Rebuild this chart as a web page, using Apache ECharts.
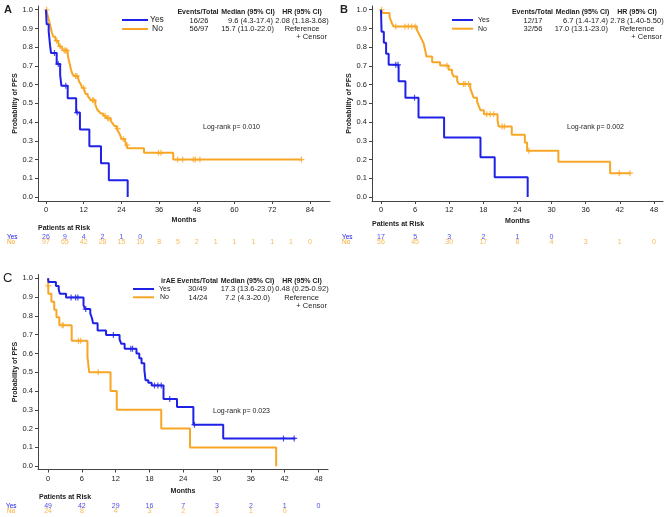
<!DOCTYPE html>
<html>
<head>
<meta charset="utf-8">
<script src="https://cdn.jsdelivr.net/npm/echarts@6/dist/echarts.min.js"></script>
<style>
  html, body { margin: 0; padding: 0; background: #fff; }
  #chart { width: 671px; height: 517px; }
</style>
</head>
<body>
<div id="chart"></div>
<script>
const blue = '#1f22e6';
const orange = '#f7a626';
const ink = '#222';
const font = '"Liberation Sans", Arial, sans-serif';

const yTicks = [0, 0.1, 0.2, 0.3, 0.4, 0.5, 0.6, 0.7, 0.8, 0.9, 1.0];
const xTicksA = [0, 12, 24, 36, 48, 60, 72, 84];
const xTicks6 = [0, 6, 12, 18, 24, 30, 36, 42, 48];

// panel A: step points [month, survival] and censor marks
const kmYesA = [[0, 1], [0.2, 0.923], [0.85, 0.885], [1.3, 0.808], [1.6, 0.769], [3.4, 0.71], [4.5, 0.652], [4.9, 0.594],
  [6.9, 0.528], [9.6, 0.451], [10.8, 0.361], [13.8, 0.271], [17.5, 0.18], [20.0, 0.09], [26.0, 0.0]];
const censorYesA = [[2.7, 0.769], [3.9, 0.71], [6.3, 0.594], [9.9, 0.451]];
const kmNoA = [[0, 1], [0.4, 0.979], [0.7, 0.959], [1.0, 0.938], [1.3, 0.918], [1.6, 0.897], [1.9, 0.876], [2.3, 0.856],
  [3.0, 0.835], [3.8, 0.825], [4.2, 0.804], [4.9, 0.794], [5.4, 0.783], [6.9, 0.762], [7.1, 0.741], [7.4, 0.72],
  [7.7, 0.699], [8.0, 0.678], [8.4, 0.657], [9.0, 0.646], [10.2, 0.635], [10.6, 0.614], [11.1, 0.603], [11.5, 0.582],
  [12.2, 0.571], [12.6, 0.55], [13.3, 0.539], [13.8, 0.528], [14.3, 0.516], [15.7, 0.494], [16.2, 0.47], [16.8, 0.458],
  [17.4, 0.446], [18.2, 0.434], [19.0, 0.42], [20.6, 0.407], [21.2, 0.393], [21.8, 0.379], [22.5, 0.365], [23.0, 0.35],
  [23.5, 0.335], [24.0, 0.31], [25.2, 0.295], [25.6, 0.277], [25.9, 0.26], [31.2, 0.236], [40.5, 0.2], [81.3, 0.2]];
const censorNoA = [[0.2, 1.0], [3.4, 0.835], [4.5, 0.804], [5.8, 0.783], [6.2, 0.783], [6.6, 0.783], [9.4, 0.646],
  [9.8, 0.646], [12.0, 0.582], [14.8, 0.516], [15.2, 0.516], [18.8, 0.434], [19.6, 0.42], [20.0, 0.42], [22.8, 0.365],
  [24.6, 0.31], [25.8, 0.277], [35.8, 0.236], [36.6, 0.236], [41.9, 0.2], [43.5, 0.2], [46.9, 0.2], [47.5, 0.2],
  [49.0, 0.2], [81.3, 0.2]];
const riskTimesA = [0, 6, 12, 18, 24, 30, 36, 42, 48, 54, 60, 66, 72, 78, 84];
const riskYesA = [26, 9, 4, 2, 1, 0];
const riskNoA = [97, 65, 42, 28, 15, 10, 8, 5, 2, 1, 1, 1, 1, 1, 0];

// panel B
const kmYesB = [[0, 1], [0.1, 0.882], [0.5, 0.824], [0.9, 0.765], [1.35, 0.706], [3.1, 0.618], [4.3, 0.53],
  [6.6, 0.424], [11.1, 0.318], [17.5, 0.212], [20.0, 0.106], [25.8, 0.0]];
const censorYesB = [[2.6, 0.706], [3.0, 0.706], [5.9, 0.53]];
const kmNoB = [[0, 1], [0.3, 0.982], [1.5, 0.964], [1.7, 0.946], [1.9, 0.929], [2.2, 0.911], [6.3, 0.893], [6.6, 0.875],
  [6.9, 0.857], [7.2, 0.839], [7.5, 0.82], [7.8, 0.78], [8.0, 0.75], [9.0, 0.72], [10.4, 0.702], [11.9, 0.68],
  [12.5, 0.661], [12.8, 0.643], [13.4, 0.62], [13.7, 0.604], [15.7, 0.58], [16.0, 0.555], [16.3, 0.53], [16.9, 0.508],
  [17.2, 0.485], [17.5, 0.463], [18.1, 0.442], [20.5, 0.41], [20.7, 0.376], [23.0, 0.333], [25.3, 0.291],
  [25.7, 0.247], [31.2, 0.188], [40.3, 0.127], [43.9, 0.127]];
const censorNoB = [[0.1, 1.0], [2.6, 0.911], [4.2, 0.911], [4.8, 0.911], [5.4, 0.911], [6.0, 0.911], [11.6, 0.702],
  [14.5, 0.604], [14.8, 0.604], [15.4, 0.604], [18.6, 0.442], [19.2, 0.442], [19.8, 0.442], [21.3, 0.376],
  [21.7, 0.376], [26.0, 0.247], [41.9, 0.127], [43.8, 0.127]];
const riskTimesB = [0, 6, 12, 18, 24, 30, 36, 42, 48];
const riskYesB = [17, 5, 3, 2, 1, 0];
const riskNoB = [56, 45, 30, 17, 8, 4, 3, 1, 0];

// panel C
const kmYesC = [[0, 1], [0.1, 0.98], [1.4, 0.959], [1.9, 0.939], [2.1, 0.918], [3.2, 0.898], [6.3, 0.857], [6.6, 0.836],
  [7.5, 0.813], [7.8, 0.787], [8.0, 0.76], [8.8, 0.722], [10.3, 0.698], [12.7, 0.675], [13.0, 0.651], [13.6, 0.625],
  [15.7, 0.6], [16.2, 0.574], [16.6, 0.548], [17.1, 0.512], [17.3, 0.458], [17.8, 0.444], [18.4, 0.43], [20.5, 0.358],
  [22.9, 0.315], [25.8, 0.221], [31.1, 0.148], [43.9, 0.148]];
const censorYesC = [[4.1, 0.898], [4.9, 0.898], [5.3, 0.898], [6.7, 0.836], [11.6, 0.698], [14.7, 0.625], [15.0, 0.625],
  [18.9, 0.43], [19.5, 0.43], [20.1, 0.43], [21.6, 0.358], [26.0, 0.221], [41.8, 0.148], [43.7, 0.148]];
const kmNoC = [[0, 1], [0.06, 0.917], [0.6, 0.875], [1.1, 0.833], [1.5, 0.792], [2.0, 0.75], [4.2, 0.667], [7.0, 0.583],
  [7.3, 0.5], [11.1, 0.4], [12.2, 0.3], [20.1, 0.2], [25.2, 0.1], [40.5, 0.0]];
const censorNoC = [[0.05, 0.96], [2.5, 0.75], [2.7, 0.75], [5.4, 0.667], [5.8, 0.667], [8.9, 0.5]];
const riskTimesC = [0, 6, 12, 18, 24, 30, 36, 42, 48];
const riskYesC = [49, 42, 29, 16, 7, 3, 2, 1, 0];
const riskNoC = [24, 8, 4, 3, 2, 1, 1, 0];

const plus = 'path://M4,0H6V4H10V6H6V10H4V6H0V4H4Z';

function plotX(idx, min, max, ticks, gap) {
  return {
    gridIndex: idx, type: 'value', min: min, max: max,
    name: 'Months', nameLocation: 'middle', nameGap: gap,
    nameTextStyle: { fontFamily: font, fontSize: 7, fontWeight: 'bold', color: ink },
    axisLine: { onZero: false, lineStyle: { color: '#444', width: 1 } },
    axisTick: { length: 3, customValues: ticks, lineStyle: { color: '#444' } },
    axisLabel: { customValues: ticks, fontFamily: font, fontSize: 7.5, color: ink, margin: 5 },
    splitLine: { show: false }
  };
}
function plotY(idx, min) {
  return {
    gridIndex: idx, type: 'value', min: min, max: 1.02,
    name: 'Probability of PFS', nameLocation: 'middle', nameGap: 19, nameRotate: 90,
    nameTextStyle: { fontFamily: font, fontSize: 7, fontWeight: 'bold', color: ink },
    axisLine: { show: true, onZero: false, lineStyle: { color: '#444', width: 1 } },
    axisTick: { show: true, length: 3, customValues: yTicks, lineStyle: { color: '#444' } },
    axisLabel: { customValues: yTicks, fontFamily: font, fontSize: 7.5, color: ink, margin: 5,
      formatter: v => v.toFixed(1) },
    splitLine: { show: false }
  };
}
function riskX(idx, min, max) {
  return { gridIndex: idx, type: 'value', min: min, max: max, show: false, splitLine: { show: false } };
}
function riskY(idx) {
  return { gridIndex: idx, type: 'value', min: 0, max: 1, show: false, splitLine: { show: false } };
}
function km(idx, data, color) {
  return { type: 'line', xAxisIndex: idx, yAxisIndex: idx, data: data, step: 'end', showSymbol: false,
    lineStyle: { color: color, width: 2 }, itemStyle: { color: color }, silent: true };
}
function cens(idx, data, color) {
  return { type: 'scatter', xAxisIndex: idx, yAxisIndex: idx, data: data, symbol: plus, symbolSize: 6,
    itemStyle: { color: color }, silent: true };
}
function risk(idx, times, counts, row, color) {
  return { type: 'scatter', xAxisIndex: idx, yAxisIndex: idx, symbolSize: 1,
    data: counts.map((n, i) => [times[i], row, n]),
    itemStyle: { color: 'rgba(0,0,0,0)' },
    label: { show: true, position: 'inside', formatter: p => String(p.value[2]),
      fontFamily: font, fontSize: 7, color: color },
    silent: true };
}
function txt(x, y, s, size, opt) {
  opt = opt || {};
  return { type: 'text', x: x, y: y, silent: true,
    style: { text: s, font: (opt.bold ? 'bold ' : '') + size + 'px ' + font, fill: opt.color || ink,
      textAlign: opt.align || 'left', textVerticalAlign: 'middle' } };
}
function seg(x1, x2, y, color) {
  return { type: 'line', silent: true, shape: { x1: x1, y1: y, x2: x2, y2: y },
    style: { stroke: color, lineWidth: 2 } };
}

const graphics = [
  // panel A
  txt(4, 10, 'A', 11, { bold: true }),
  seg(122, 148, 20, blue), txt(150, 19.5, 'Yes', 8.5),
  seg(122, 148, 29, orange), txt(152, 28.5, 'No', 8.5),
  txt(198, 12.5, 'Events/Total', 7, { bold: true, align: 'center' }),
  txt(248, 12.5, 'Median (95% CI)', 7, { bold: true, align: 'center' }),
  txt(302, 12.5, 'HR (95% CI)', 7, { bold: true, align: 'center' }),
  txt(199, 20.5, '16/26', 7.5, { align: 'center' }),
  txt(273, 20.5, '9.6 (4.3-17.4)', 7.5, { align: 'right' }),
  txt(302, 20.5, '2.08 (1.18-3.68)', 7.5, { align: 'center' }),
  txt(199, 29, '56/97', 7.5, { align: 'center' }),
  txt(274, 29, '15.7 (11.0-22.0)', 7.5, { align: 'right' }),
  txt(302, 29, 'Reference', 7.5, { align: 'center' }),
  txt(327, 37, '+ Censor', 7.5, { align: 'right' }),
  txt(203, 127, 'Log-rank p= 0.010', 7),
  txt(38, 228.5, 'Patients at Risk', 7, { bold: true }),
  txt(7, 237, 'Yes', 6.5, { color: blue }),
  txt(7, 242, 'No', 6.5, { color: orange }),
  // panel B
  txt(340, 10, 'B', 11, { bold: true }),
  seg(452, 473, 20, blue), txt(478, 20, 'Yes', 7),
  seg(452, 473, 28.7, orange), txt(478, 28.7, 'No', 7),
  txt(532.5, 12.5, 'Events/Total', 7, { bold: true, align: 'center' }),
  txt(582.5, 12.5, 'Median (95% CI)', 7, { bold: true, align: 'center' }),
  txt(637, 12.5, 'HR (95% CI)', 7, { bold: true, align: 'center' }),
  txt(533, 20.5, '12/17', 7.5, { align: 'center' }),
  txt(608, 20.5, '6.7 (1.4-17.4)', 7.5, { align: 'right' }),
  txt(637, 20.5, '2.78 (1.40-5.50)', 7.5, { align: 'center' }),
  txt(533, 29, '32/56', 7.5, { align: 'center' }),
  txt(608, 29, '17.0 (13.1-23.0)', 7.5, { align: 'right' }),
  txt(637, 29, 'Reference', 7.5, { align: 'center' }),
  txt(662, 37, '+ Censor', 7.5, { align: 'right' }),
  txt(567, 127, 'Log-rank p= 0.002', 7),
  txt(372, 224, 'Patients at Risk', 7, { bold: true }),
  txt(342, 237, 'Yes', 6.5, { color: blue }),
  txt(342, 242, 'No', 6.5, { color: orange }),
  // panel C
  txt(3, 278, 'C', 13),
  txt(161, 281, 'irAE', 7, { bold: true }),
  txt(197.5, 281, 'Events/Total', 7, { bold: true, align: 'center' }),
  txt(247.5, 281, 'Median (95% CI)', 7, { bold: true, align: 'center' }),
  txt(302, 281, 'HR (95% CI)', 7, { bold: true, align: 'center' }),
  seg(133, 154, 289, blue), txt(159, 289, 'Yes', 7),
  seg(133, 154, 297.3, orange), txt(160, 297.3, 'No', 7),
  txt(197.5, 289, '30/49', 7.5, { align: 'center' }),
  txt(274, 289, '17.3 (13.6-23.0)', 7.5, { align: 'right' }),
  txt(302, 289, '0.48 (0.25-0.92)', 7.5, { align: 'center' }),
  txt(198, 297.5, '14/24', 7.5, { align: 'center' }),
  txt(270, 297.5, '7.2 (4.3-20.0)', 7.5, { align: 'right' }),
  txt(301.5, 297.5, 'Reference', 7.5, { align: 'center' }),
  txt(327, 306, '+ Censor', 7.5, { align: 'right' }),
  txt(213, 411, 'Log-rank p= 0.023', 7),
  txt(39, 497.5, 'Patients at Risk', 7, { bold: true }),
  txt(6, 506, 'Yes', 6.5, { color: blue }),
  txt(7, 511, 'No', 6.5, { color: orange })
];

const chart = echarts.init(document.getElementById('chart'), null, { renderer: 'canvas' });
chart.setOption({
  animation: false,
  backgroundColor: '#fff',
  grid: [
    { left: 38, top: 6, width: 292, height: 195 },
    { left: 372, top: 6, width: 291, height: 195 },
    { left: 38, top: 274.5, width: 290, height: 195 },
    { left: 38, top: 237, width: 292, height: 5 },
    { left: 372, top: 237, width: 291, height: 5.5 },
    { left: 38, top: 506, width: 290, height: 5 }
  ],
  xAxis: [
    plotX(0, -2.55, 90.4, xTicksA, 16),
    plotX(1, -1.58, 49.6, xTicks6, 17),
    plotX(2, -1.78, 49.7, xTicks6, 18),
    riskX(3, -2.55, 90.4),
    riskX(4, -1.58, 49.6),
    riskX(5, -1.78, 49.7)
  ],
  yAxis: [
    plotY(0, -0.0214),
    plotY(1, -0.0214),
    plotY(2, -0.0175),
    riskY(3), riskY(4), riskY(5)
  ],
  series: [
    km(0, kmNoA, orange), km(0, kmYesA, blue), cens(0, censorNoA, orange), cens(0, censorYesA, blue),
    km(1, kmNoB, orange), km(1, kmYesB, blue), cens(1, censorNoB, orange), cens(1, censorYesB, blue),
    km(2, kmNoC, orange), km(2, kmYesC, blue), cens(2, censorNoC, orange), cens(2, censorYesC, blue),
    risk(3, riskTimesA, riskYesA, 1, blue), risk(3, riskTimesA, riskNoA, 0, orange),
    risk(4, riskTimesB, riskYesB, 1, blue), risk(4, riskTimesB, riskNoB, 0, orange),
    risk(5, riskTimesC, riskYesC, 1, blue), risk(5, riskTimesC, riskNoC, 0, orange)
  ],
  graphic: graphics
});
</script>
</body>
</html>
